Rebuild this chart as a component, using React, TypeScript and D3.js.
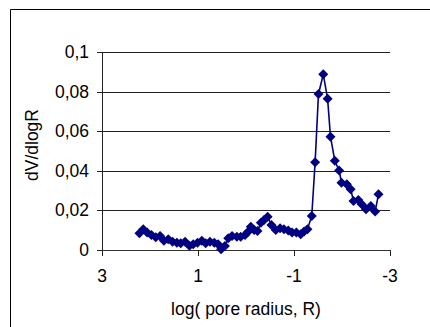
import React from "react";
import * as d3 from "d3";

const logR: number[] = [
  2.22, 2.14, 2.06, 1.97, 1.88, 1.79, 1.71, 1.62, 1.53, 1.44, 1.36, 1.27, 1.18, 1.1, 1.01, 0.92, 0.84, 0.75, 0.66, 0.58,
  0.52, 0.44, 0.37, 0.29, 0.19, 0.11, 0.02, -0.05, -0.1, -0.17, -0.24, -0.31, -0.375, -0.45, -0.53, -0.62, -0.71, -0.79,
  -0.88, -0.96, -1.05, -1.14, -1.21, -1.28, -1.37, -1.44, -1.51, -1.61, -1.7, -1.76, -1.85, -1.94, -1.99, -2.1, -2.18,
  -2.24, -2.34, -2.41, -2.5, -2.6, -2.69, -2.76,
];
const dVdlogR: number[] = [
  0.0084, 0.0105, 0.0089, 0.0076, 0.0064, 0.0071, 0.0047, 0.0054, 0.0042, 0.0037, 0.0034, 0.0042, 0.0022, 0.0029,
  0.0037, 0.0047, 0.0034, 0.0042, 0.0037, 0.0029, 0.0004, 0.002, 0.0059, 0.0071, 0.0067, 0.0067, 0.0076, 0.0093,
  0.0118, 0.0101, 0.0096, 0.0138, 0.0152, 0.0168, 0.0126, 0.0101, 0.011, 0.0105, 0.0098, 0.0088, 0.0088, 0.0079,
  0.0093, 0.0105, 0.0172, 0.0443, 0.0788, 0.0887, 0.0764, 0.0572, 0.0451, 0.0401, 0.034, 0.0332, 0.0307, 0.0248,
  0.0253, 0.0231, 0.0206, 0.0222, 0.0194, 0.0281,
];
const xTicks: number[] = [3, 1, -1, -3];
const yTicks: number[] = [0, 0.02, 0.04, 0.06, 0.08, 0.1];

const fmtY = (v: number) => (v === 0 ? "0" : String(+v.toFixed(2)).replace(".", ","));

export default function App() {
  const left = 102, right = 390, top = 52, bottom = 250;
  const x = d3.scaleLinear().domain([3, -3]).range([left, right]);
  const y = d3.scaleLinear().domain([0, 0.1]).range([bottom, top]);
  const pts = logR.map((v, i) => [x(v), y(dVdlogR[i])] as [number, number]);
  const line = d3.line()(pts) || "";
  const r = 5;
  const font = "Liberation Sans, Arial, sans-serif";
  const fs = 17.5;
  return (
    <svg width={430} height={327} style={{ position: "absolute", left: 0, top: 0 }}>
      <rect x={0} y={0} width={430} height={327} fill="#fff" />
      <path d="M10.5,327 V9.5 H430" fill="none" stroke="#000" strokeWidth={1} />
      {yTicks.filter((t) => t > 0).map((t) => (
        <line key={t} x1={left} x2={right} y1={Math.round(y(t)) + 0.5} y2={Math.round(y(t)) + 0.5} stroke="#222" strokeWidth={1} />
      ))}
      <line x1={left} x2={right} y1={bottom + 0.5} y2={bottom + 0.5} stroke="#333" strokeWidth={1} />
      <line x1={left + 0.5} x2={left + 0.5} y1={top} y2={bottom} stroke="#222" strokeWidth={1} />
      {yTicks.map((t) => (
        <g key={t}>
          <line x1={left - 5} x2={left} y1={Math.round(y(t)) + 0.5} y2={Math.round(y(t)) + 0.5} stroke="#222" />
          <text x={89} y={y(t) + 6} textAnchor="end" fontFamily={font} fontSize={fs} fill="#000">
            {fmtY(t)}
          </text>
        </g>
      ))}
      {xTicks.map((t) => (
        <g key={t}>
          <line x1={Math.round(x(t)) + 0.5} x2={Math.round(x(t)) + 0.5} y1={bottom} y2={bottom + 6} stroke="#222" />
          <text x={x(t)} y={282} textAnchor="middle" fontFamily={font} fontSize={fs} fill="#000">
            {t}
          </text>
        </g>
      ))}
      <text x={246} y={315} textAnchor="middle" fontFamily={font} fontSize={fs} fill="#000">
        log( pore radius, R)
      </text>
      <text transform="translate(38,145) rotate(-90)" textAnchor="middle" fontFamily={font} fontSize={fs} fill="#000">
        dV/dlogR
      </text>
      <path d={line} fill="none" stroke="#000080" strokeWidth={1.6} />
      {pts.map(([px, py], i) => (
        <path key={i} d={`M${px},${py - r}L${px + r},${py}L${px},${py + r}L${px - r},${py}Z`} fill="#000080" />
      ))}
    </svg>
  );
}
